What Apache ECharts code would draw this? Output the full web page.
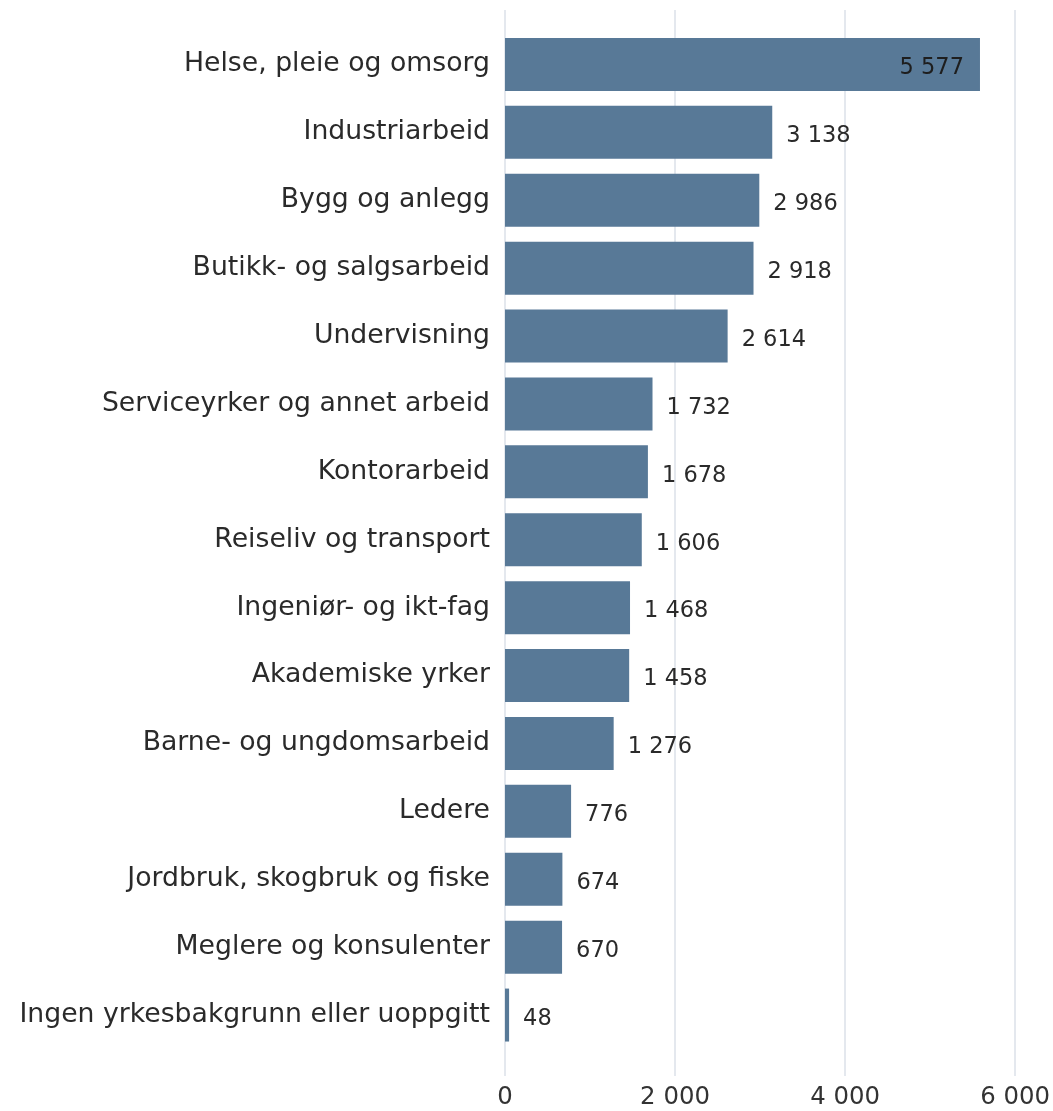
<!DOCTYPE html>
<html>
<head>
<meta charset="utf-8">
<script src="https://cdn.jsdelivr.net/npm/echarts@6/dist/echarts.min.js"></script>
<style>
html,body{margin:0;padding:0;background:#fff;}
#chart{width:1053px;height:1111px;}
</style>
</head>
<body>
<div id="chart"></div>
<script>
const categories = [
  "Helse, pleie og omsorg",
  "Industriarbeid",
  "Bygg og anlegg",
  "Butikk- og salgsarbeid",
  "Undervisning",
  "Serviceyrker og annet arbeid",
  "Kontorarbeid",
  "Reiseliv og transport",
  "Ingeniør- og ikt-fag",
  "Akademiske yrker",
  "Barne- og ungdomsarbeid",
  "Ledere",
  "Jordbruk, skogbruk og fiske",
  "Meglere og konsulenter",
  "Ingen yrkesbakgrunn eller uoppgitt"
];
const values = [5577, 3138, 2986, 2918, 2614, 1732, 1678, 1606, 1468, 1458, 1276, 776, 674, 670, 48];
const xTicks = [0, 2000, 4000, 6000];

function fmt(v) {
  return String(v).replace(/\B(?=(\d{3})+(?!\d))/g, " ");
}

const FONT = "'DejaVu Sans', 'Open Sans', sans-serif";
const chart = echarts.init(document.getElementById('chart'), null, {renderer: 'canvas'});

const seriesData = values.map((v, i) => {
  const item = {value: v};
  if (i === 0) {
    item.label = {position: 'insideRight', distance: 16, color: '#1e1e1e'};
  }
  return item;
});

chart.setOption({
  animation: false,
  backgroundColor: '#ffffff',
  grid: [
    {left: 505, right: 37, top: 10, bottom: 35},
    {left: 505, right: 37, top: 30.5, bottom: 62}
  ],
  xAxis: [
    {
      gridIndex: 0, type: 'value', min: xTicks[0], max: xTicks[xTicks.length - 1], interval: 2000,
      axisLine: {show: false}, axisTick: {show: false},
      splitLine: {show: true, lineStyle: {color: '#e4e8ee', width: 2}},
      axisLabel: {fontFamily: FONT, fontSize: 24.4, color: '#333333', margin: 10, formatter: v => fmt(v)}
    },
    {
      gridIndex: 1, type: 'value', min: xTicks[0], max: xTicks[xTicks.length - 1], interval: 2000,
      show: false
    }
  ],
  yAxis: [
    {gridIndex: 0, type: 'value', show: false},
    {
      gridIndex: 1, type: 'category', data: categories, inverse: true,
      axisLine: {show: false}, axisTick: {show: false}, splitLine: {show: false},
      axisLabel: {fontFamily: FONT, fontSize: 26.7, color: '#2a2a2a', margin: 15}
    }
  ],
  series: [
    {
      type: 'bar', xAxisIndex: 1, yAxisIndex: 1,
      data: seriesData,
      barCategoryGap: '22%',
      itemStyle: {color: '#587997'},
      label: {
        show: true, position: 'right', distance: 14,
        fontFamily: FONT, fontSize: 22.5, color: '#2a2a2a',
        offset: [0, 4],
        formatter: p => fmt(p.value)
      }
    }
  ]
});
</script>
</body>
</html>
